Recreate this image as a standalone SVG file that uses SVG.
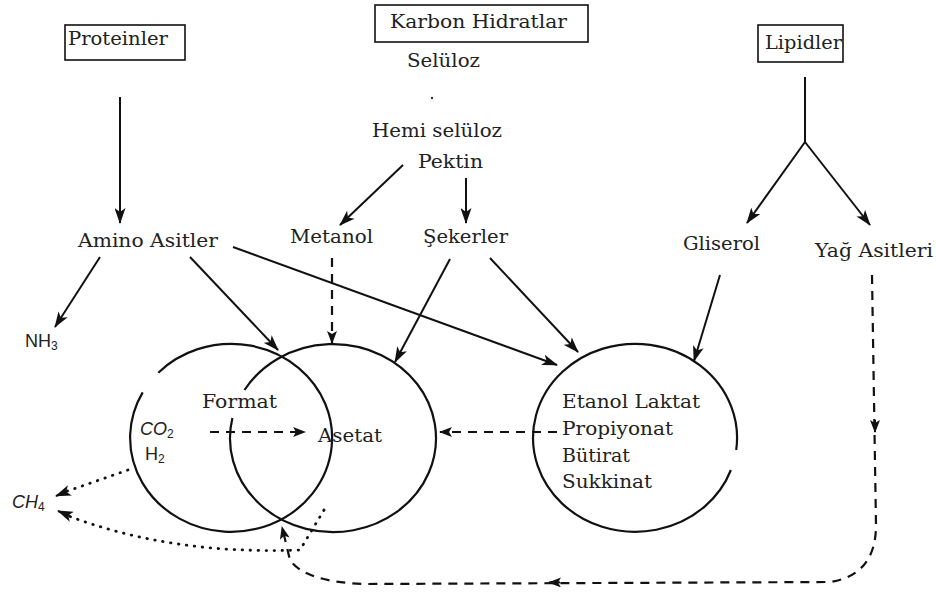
<svg xmlns="http://www.w3.org/2000/svg" width="936" height="592" viewBox="0 0 936 592">
<style>
.t{font-family:"DejaVu Serif","Liberation Serif",serif;font-size:19px;fill:#222}
.s{font-family:"Liberation Sans","DejaVu Sans",sans-serif;font-size:18px;fill:#222}
.box{fill:none;stroke:#111;stroke-width:1.6}
.c{fill:none;stroke:#111;stroke-width:2.2}
.ln{fill:none;stroke:#111;stroke-width:2}
.dash{fill:none;stroke:#111;stroke-width:2.2;stroke-dasharray:9 7}
.dot{fill:none;stroke:#111;stroke-width:2.8;stroke-linecap:round;stroke-dasharray:0.5 7.5}
</style>
<defs>
<marker id="ah" viewBox="0 0 16 11" refX="15" refY="5.5" markerWidth="16" markerHeight="11" markerUnits="userSpaceOnUse" orient="auto"><path d="M0,0 L16,5.5 L0,11 L4,5.5 z" fill="#111"/></marker>
<marker id="ahs" viewBox="0 0 13 10" refX="12" refY="5" markerWidth="13" markerHeight="10" markerUnits="userSpaceOnUse" orient="auto"><path d="M0,0 L13,5 L0,10 L3,5 z" fill="#111"/></marker>
</defs>
<rect width="936" height="592" fill="#fff"/>

<g id="proteinler"><rect class="box" x="65" y="25" width="120" height="35"/><text class="t" x="68" y="45" textLength="100" lengthAdjust="spacingAndGlyphs">Proteinler</text></g>
<g id="karbon"><rect class="box" x="375" y="5" width="213" height="37"/><text class="t" x="390" y="28" textLength="177" lengthAdjust="spacingAndGlyphs">Karbon Hidratlar</text></g>
<g id="lipidler"><rect class="box" x="758" y="25" width="85" height="37"/><text class="t" x="765" y="49" textLength="77" lengthAdjust="spacingAndGlyphs">Lipidler</text></g>
<g id="seluloz"><text class="t" x="407" y="67" textLength="73" lengthAdjust="spacingAndGlyphs">Selüloz</text><circle cx="432" cy="98" r="1.2" fill="#333"/></g>
<g id="hemiseluloz"><text class="t" x="372" y="137" textLength="130" lengthAdjust="spacingAndGlyphs">Hemi selüloz</text></g>
<g id="pektin"><text class="t" x="418" y="168" textLength="65" lengthAdjust="spacingAndGlyphs">Pektin</text></g>
<g id="amino"><text class="t" x="78" y="247" textLength="140" lengthAdjust="spacingAndGlyphs">Amino Asitler</text></g>
<g id="metanol"><text class="t" x="290" y="243" textLength="83" lengthAdjust="spacingAndGlyphs">Metanol</text></g>
<g id="sekerler"><text class="t" x="423" y="243" textLength="85" lengthAdjust="spacingAndGlyphs">Şekerler</text></g>
<g id="gliserol"><text class="t" x="683" y="250" textLength="77" lengthAdjust="spacingAndGlyphs">Gliserol</text></g>
<g id="yag"><text class="t" x="815" y="257" textLength="118" lengthAdjust="spacingAndGlyphs">Yağ Asitleri</text></g>
<g id="nh3"><text class="s" x="25" y="347">NH<tspan font-size="12" dy="3">3</tspan></text></g>
<g id="ch4"><text class="s" x="12" y="508"><tspan font-style="italic">CH</tspan><tspan font-size="12" dy="3">4</tspan></text></g>

<g id="circle-co2">
<path class="c" d="M142.7,392.4 A101,94 0 1 0 158.3,372.7"/>
<text class="s" x="140" y="435"><tspan font-style="italic">CO</tspan><tspan font-size="12" dy="3">2</tspan></text>
<text class="s" x="145" y="460">H<tspan font-size="12" dy="3">2</tspan></text>
<text class="t" x="202" y="408" textLength="75" lengthAdjust="spacingAndGlyphs">Format</text>
</g>
<g id="circle-asetat">
<path class="c" d="M232.4,417.9 A103,94 0 1 0 244.5,390"/>
<text class="t" x="318" y="442" textLength="64" lengthAdjust="spacingAndGlyphs">Asetat</text>
</g>
<g id="circle-right">
<path class="c" d="M730.9,470 A102,94 0 1 1 736.2,450"/>
<text class="t" x="562" y="408" textLength="138" lengthAdjust="spacingAndGlyphs">Etanol Laktat</text>
<text class="t" x="562" y="435" textLength="111" lengthAdjust="spacingAndGlyphs">Propiyonat</text>
<text class="t" x="562" y="462" textLength="68" lengthAdjust="spacingAndGlyphs">Bütirat</text>
<text class="t" x="562" y="488" textLength="90" lengthAdjust="spacingAndGlyphs">Sukkinat</text>
</g>

<g id="connectors">
<path class="ln" d="M120,97 L120,223" marker-end="url(#ah)"/>
<path class="ln" d="M100,257 L55,327" marker-end="url(#ah)"/>
<path class="ln" d="M190,257 L278,350" marker-end="url(#ah)"/>
<path class="ln" d="M233,247 L557,365" marker-end="url(#ah)"/>
<path class="ln" d="M403,165 L340,225" marker-end="url(#ah)"/>
<path class="ln" d="M466,178 L466,223" marker-end="url(#ah)"/>
<path class="dash" d="M332,258 L332,343" marker-end="url(#ahs)"/>
<path class="ln" d="M450,259 L395,362" marker-end="url(#ah)"/>
<path class="ln" d="M490,258 L578,352" marker-end="url(#ah)"/>
<path class="ln" d="M805,77 L805,142"/>
<path class="ln" d="M805,142 L747,223" marker-end="url(#ah)"/>
<path class="ln" d="M805,142 L870,225" marker-end="url(#ah)"/>
<path class="ln" d="M720,275 L694,361" marker-end="url(#ah)"/>
<path class="dash" d="M210,432 L305,432" marker-end="url(#ahs)"/>
<path class="dash" d="M557,432 L440,432" marker-end="url(#ahs)"/>
<path class="dash" d="M872,275 L876,525 Q876,575 830,582 L365,584 Q305,582 290,560 L282,527" marker-end="url(#ahs)"/>
<path class="ln" d="M875,420 L875,432" marker-end="url(#ahs)"/>
<path class="ln" d="M560,582.4 L549,582.4" marker-end="url(#ahs)"/>
<path class="dot" d="M128,470 L62,493"/>
<path class="ln" d="M66,492 L56,496" marker-end="url(#ah)"/>
<path class="dot" d="M324,510 L300,550 Q170,555 66,515"/>
<path class="ln" d="M70,516 L58,511" marker-end="url(#ah)"/>
</g>
</svg>
